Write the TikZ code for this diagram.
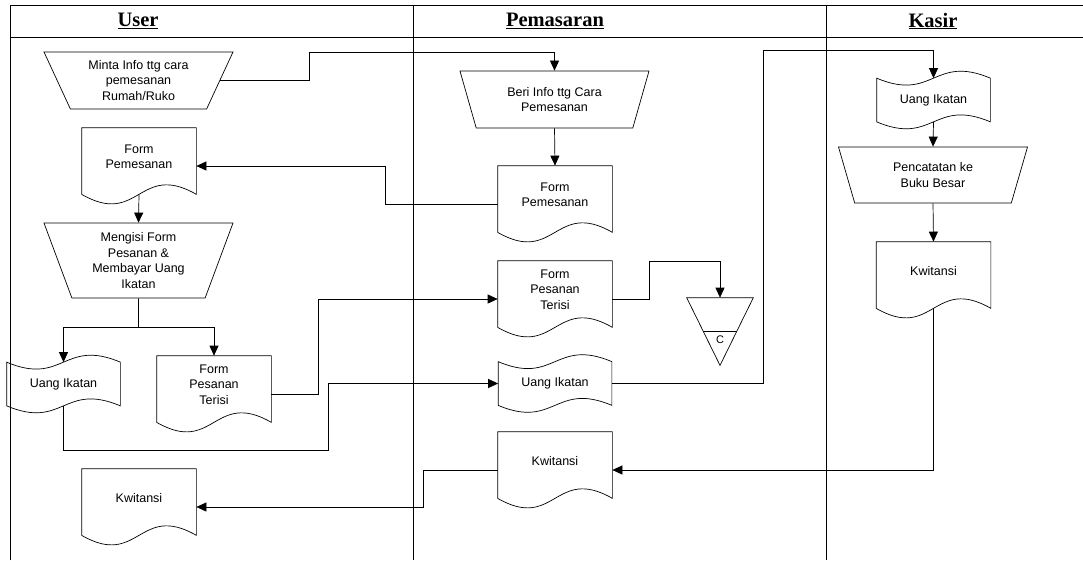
\documentclass[tikz,border=0pt]{standalone}
\usepackage{fontspec}
\setmainfont{Liberation Sans}
\newfontfamily\judulfont{Liberation Serif}
\usetikzlibrary{arrows.meta,shapes.geometric,calc}
\newcommand{\dokumen}[1]{\draw (#1.north west) -- (#1.north east) -- ([yshift=10pt]#1.south east) .. controls ([yshift=43pt]#1.south) and ([yshift=-23pt]#1.south) .. ([yshift=10pt]#1.south west) -- cycle;}
\newcommand{\pita}[1]{\draw (#1.north west) .. controls ([yshift=-24pt]#1.north) and ([yshift=24pt]#1.north) .. (#1.north east) -- (#1.south east) .. controls ([yshift=24pt]#1.south) and ([yshift=-24pt]#1.south) .. (#1.south west) -- cycle;}
\newcommand{\arsip}[1]{\draw (#1.north west) -- (#1.north east) -- (#1.south) -- cycle;
  \draw ($(#1.north west)!0.5!(#1.south)$) -- ($(#1.north east)!0.5!(#1.south)$);}

\begin{document}
\begin{tikzpicture}[x=1pt,y=-1pt,line width=0.7pt,
  teks/.style={font=\fontsize{12.5}{15.5}\selectfont,align=center},
  manual/.style={teks,draw,trapezium,shape border rotate=180,trapezium stretches body,inner sep=0pt,minimum width=189pt,minimum height=57pt,trapezium angle=56.7},
  dok/.style={teks,minimum width=114pt,minimum height=76pt,inner sep=0pt,text depth=19pt},
  pitabox/.style={teks,minimum width=113pt,minimum height=43pt,inner sep=0pt},
  arr/.style={-{Triangle[length=10pt,width=9pt]}},
  judul/.style={font=\judulfont\bfseries\fontsize{20.5}{24}\selectfont}]
  \useasboundingbox (0,0) rectangle (1083,560);
  \draw (10,560) -- (10,5) -- (1083,5);
  \draw (10,37) -- (1083,37);
  \draw (413,5) -- (413,560);
  \draw (826,5) -- (826,560);
  \node[judul] (hUser) at (138,21) {\underline{User}};
  \node[judul] (hPem) at (555,21) {\underline{Pemasaran}};
  \node[judul] (hKas) at (933,21) {\underline{Kasir}};

  \node[manual] (minta) at (138.5,80.5) {Minta Info ttg cara\\pemesanan\\Rumah/Ruko};
  \node[dok] (ufp) at (139,166) {Form\\Pemesanan};
  \node[manual,minimum height=75pt,trapezium angle=63.4] (isi) at (138.5,260.5) {Mengisi Form\\Pesanan \&\\Membayar Uang\\Ikatan};
  \node[pitabox] (uik) at (63.5,384) {Uang Ikatan};
  \node[dok] (ufpt) at (214,394) {Form\\Pesanan\\Terisi};
  \node[dok] (ukw) at (139,507) {Kwitansi};

  \node[manual] (beri) at (554.5,99.5) {Beri Info ttg Cara\\Pemesanan};
  \node[dok] (pfp) at (555,204) {Form\\Pemesanan};
  \node[dok] (pfpt) at (555,299) {Form\\Pesanan\\Terisi};
  \node[pitabox] (pik) at (555,383.5) {Uang Ikatan};
  \node[dok] (pkw) at (555,470) {Kwitansi};
  \node[minimum width=66pt,minimum height=67pt,inner sep=0pt,label={[teks,font=\fontsize{11}{13}\selectfont,yshift=-8pt]center:C}] (arsip) at (720,331.5) {};

  \node[pitabox] (kik) at (933.5,100) {Uang Ikatan};
  \node[manual,minimum height=56pt] (catat) at (933,175) {Pencatatan ke\\Buku Besar};
  \node[dok] (kkw) at (933.5,280) {Kwitansi};

  \dokumen{ufp} \dokumen{ufpt} \dokumen{ukw}
  \dokumen{pfp} \dokumen{pfpt} \dokumen{pkw} \dokumen{kkw}
  \pita{uik} \pita{pik} \pita{kik}
  \arsip{arsip}

  \draw[arr] (minta.east) -| (309,52) -| (beri.north);
  \draw[arr] (beri.south) -- (pfp.north);
  \draw[arr] (pfp.west) -| (385,166) -- (ufp.east);
  \draw[arr] ([yshift=10pt]ufp.south) -- (isi.north);
  \draw (isi.south) -- (138.5,327) coordinate (cab);
  \draw[arr] (cab) -| (uik.north);
  \draw[arr] (cab) -| (ufpt.north);
  \draw[arr] (ufpt.east) -| (318,299) -- (pfpt.west);
  \draw[arr] (uik.south) |- (328,450) |- (pik.west);
  \draw[arr] (pfpt.east) -| (649,261) -| (arsip.north);
  \draw[arr] (pik.east) -| (763,50) -| (kik.north);
  \draw[arr] (kik.south) -- (catat.north);
  \draw[arr] (catat.south) -- (kkw.north);
  \draw[arr] ([yshift=10pt]kkw.south) |- (pkw.east);
  \draw[arr] (pkw.west) -| (423,507) -- (ukw.east);
\end{tikzpicture}
\end{document}
